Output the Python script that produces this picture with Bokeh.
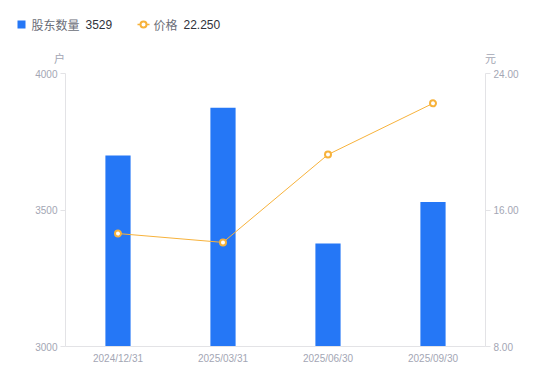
from bokeh.plotting import figure
from bokeh.layouts import column
from bokeh.models import (ColumnDataSource, Range1d, LinearAxis, FactorRange,
                          FixedTicker, CustomJSTickFormatter)
from bokeh.core.properties import value
from bokeh.embed import file_html
from bokeh.resources import INLINE

dates = ["2024/12/31", "2025/03/31", "2025/06/30", "2025/09/30"]
holders = [3700, 3875, 3377, 3529]
prices = [14.62, 14.10, 19.25, 22.25]
left_ticks = [3000, 3500, 4000]
right_ticks = [8, 16, 24]
series_names = ["股东数量", "价格"]
units = ["户", "元"]

FONT = "Liberation Sans"
CJK = "Noto Sans CJK SC"
TICK_COLOR = "#a3a6b4"
AXIS_LINE = "#e3e3e6"
BAR = "#2577f6"
LINE = "#f7b23b"
W = 550
HEAD_H = 65

# ---------- header (legend + unit labels) ----------
h = figure(width=W, height=HEAD_H, x_range=Range1d(0, W), y_range=Range1d(HEAD_H, 0),
           output_backend="svg", toolbar_location=None, x_axis_location=None,
           y_axis_location=None, min_border=0)
h.frame_align = False
h.outline_line_color = None
h.xgrid.grid_line_color = None
h.ygrid.grid_line_color = None

h.rect(x=[21], y=[24], width=8, height=8, fill_color=BAR, line_color=None)
h.text(x=[31], y=[24], text=[series_names[0]], text_font=value(CJK), text_font_size="12px",
       text_color="#6b6e78", text_baseline="middle")
h.text(x=[85], y=[24], text=[str(holders[-1])], text_font=value(FONT), text_font_size="12px",
       text_color="#30323a", text_baseline="middle")
h.line(x=[137, 149], y=[24, 24], line_color=LINE, line_width=1.5)
h.scatter(x=[143], y=[24], size=6, marker="circle", fill_color="white", line_color=LINE,
          line_width=2)
h.text(x=[153], y=[24], text=[series_names[1]], text_font=value(CJK), text_font_size="12px",
       text_color="#6b6e78", text_baseline="middle")
h.text(x=[183], y=[24], text=[f"{prices[-1]:.3f}"], text_font=value(FONT),
       text_font_size="12px", text_color="#30323a", text_baseline="middle")
h.text(x=[59, 490], y=[57, 57], text=units, text_font=value(CJK), text_font_size="11px",
       text_color=TICK_COLOR, text_baseline="middle", text_align="center")

# ---------- main chart ----------
src = ColumnDataSource(dict(x=dates, h=holders, p=prices))

p = figure(width=W, height=381 - HEAD_H, x_range=FactorRange(*dates, range_padding=0),
           y_range=Range1d(3000, 4000), output_backend="svg", toolbar_location=None,
           min_border_left=65, min_border_right=65, min_border_top=8, min_border_bottom=35)
p.frame_align = False
p.outline_line_color = None
p.xgrid.grid_line_color = None
p.ygrid.grid_line_color = None

p.extra_y_ranges = {"price": Range1d(8, 24)}

p.vbar(x="x", top="h", bottom=3000, width=0.24, source=src, color=BAR, line_color=None)
p.line(x="x", y="p", source=src, y_range_name="price", line_color=LINE, line_width=1)
p.scatter(x="x", y="p", source=src, y_range_name="price", size=6, marker="circle",
          fill_color="white", line_color=LINE, line_width=2)

la = p.yaxis[0]
la.ticker = FixedTicker(ticks=left_ticks)
ra = LinearAxis(y_range_name="price", ticker=FixedTicker(ticks=right_ticks))
ra.formatter = CustomJSTickFormatter(code="return tick.toFixed(2);")
p.add_layout(ra, "right")
for ax in (la, ra):
    ax.axis_line_color = AXIS_LINE
    ax.major_tick_line_color = AXIS_LINE
    ax.major_tick_out = 5
    ax.major_tick_in = 0
    ax.minor_tick_line_color = None
    ax.major_label_text_color = TICK_COLOR
    ax.major_label_text_font = FONT
    ax.major_label_text_font_size = "10px"
    ax.major_label_standoff = 3

xa = p.xaxis[0]
xa.axis_line_color = AXIS_LINE
xa.major_tick_line_color = None
xa.major_tick_out = 0
xa.major_tick_in = 0
xa.minor_tick_line_color = None
xa.major_label_text_color = TICK_COLOR
xa.major_label_text_font = FONT
xa.major_label_text_font_size = "10px"
xa.major_label_standoff = 6

layout = column(h, p, spacing=0)
open("out.html", "w").write(file_html(layout, INLINE))
